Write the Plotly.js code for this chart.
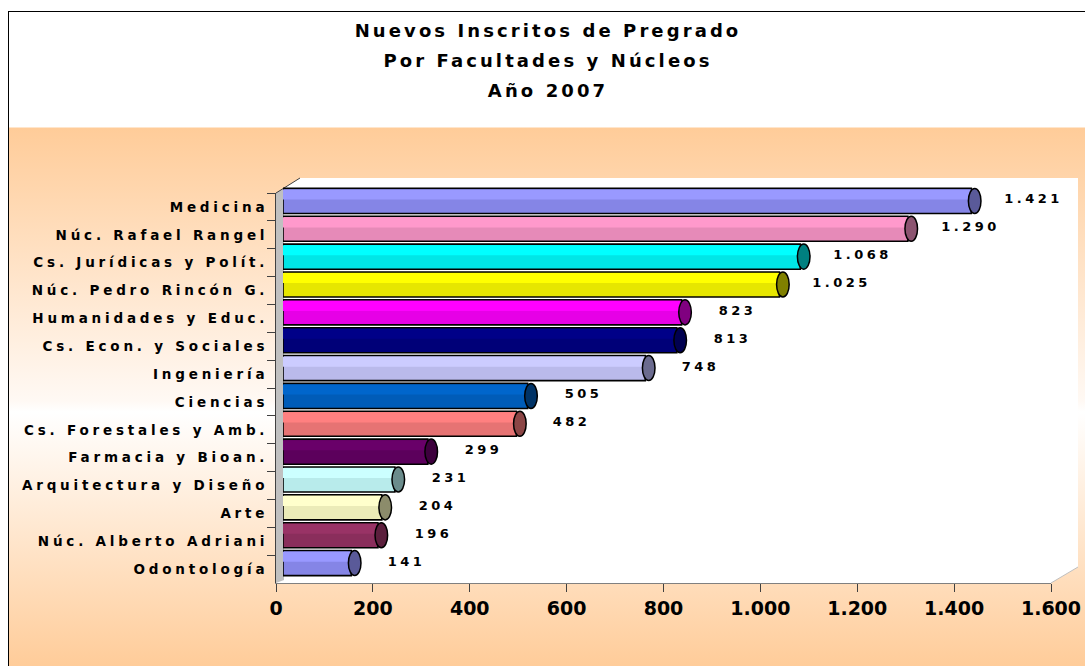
<!DOCTYPE html>
<html>
<head>
<meta charset="utf-8">
<script src="https://cdn.plot.ly/plotly-3.0.1.min.js"></script>
<style>
  html, body { margin: 0; padding: 0; background: #ffffff; }
  #wrap { position: relative; width: 1085px; height: 666px; overflow: hidden; }
  #frame {
    position: absolute; left: 8px; top: 11px; width: 1100px; height: 700px;
    border: 1px solid #000;
    background: linear-gradient(to bottom,
      #ffffff 0px, #ffffff 115px,
      #ffcc99 116px, #fff9f4 389px, #ffffff 400px, #ffcc99 655px, #ffcc99 700px);
  }
  #chart { position: absolute; left: 0; top: 0; width: 1085px; height: 666px; }
  #chart .ytick text { letter-spacing: 3.8px; }
  #chart .annotation-text { letter-spacing: 3.5px; }
  #chart .gtitle { letter-spacing: 3.1px; }
</style>
</head>
<body>
<div id="wrap">
  <div id="frame"></div>
  <div id="chart"></div>
</div>
<script>
// ---- data ----
const CATEGORIES = [
  'Medicina', 'Núc. Rafael Rangel', 'Cs. Jurídicas y Polít.', 'Núc. Pedro Rincón G.',
  'Humanidades y Educ.', 'Cs. Econ. y Sociales', 'Ingeniería', 'Ciencias',
  'Cs. Forestales y Amb.', 'Farmacia y Bioan.', 'Arquitectura y Diseño', 'Arte',
  'Núc. Alberto Adriani', 'Odontología'
];
const INSCRITOS = [1421, 1290, 1068, 1025, 823, 813, 748, 505, 482, 299, 231, 204, 196, 141];
const X_TICKS = [0, 200, 400, 600, 800, 1000, 1200, 1400, 1600];
const TITLE_LINES = ['Nuevos Inscritos de Pregrado', 'Por Facultades y Núcleos', 'Año 2007'];

// ---- styles ----
const BODY_COLORS = ['#8585E6', '#E68AB8', '#00E6E6', '#E6E600', '#E600E6', '#000078', '#BABAEB',
                     '#005CB8', '#E67373', '#5C005C', '#B8EBEB', '#EBEBB8', '#8A2E5C', '#8585E6'];
const HI_COLORS   = ['#9999FF', '#FF99CC', '#00FFFF', '#FFFF00', '#FF00FF', '#000088', '#CCCCFF',
                     '#0066CC', '#FF8080', '#690069', '#CCFFFF', '#FFFFCC', '#993366', '#9999FF'];
const CAP_COLORS  = ['#5A5A99', '#8C5470', '#008080', '#808000', '#800080', '#000050', '#6B6B8F',
                     '#003366', '#8C4646', '#3D003D', '#6B8C8C', '#8C8C6B', '#5C1F3D', '#5A5A99'];

const W = 1085, H = 666;
const L = 276, R = 27, T = 187, B = 83;
const PW = W - L - R, PH = H - T - B;
const px = p => (p - L) / PW;
const py = p => (H - B - p) / PH;
const FONT = 'DejaVu Sans, Verdana, sans-serif';

const fmt = v => String(v).replace(/\B(?=(\d{3})+(?!\d))/g, '.');

const idx = CATEGORIES.map((_, i) => i);

const traces = [
  // invisible trace to populate the labelled category axis
  { type: 'scatter', x: INSCRITOS, y: CATEGORIES, xaxis: 'x', yaxis: 'y',
    mode: 'markers', marker: { opacity: 0 }, hoverinfo: 'skip', showlegend: false },
  // main bars
  { type: 'bar', orientation: 'h', x: INSCRITOS, y: CATEGORIES, xaxis: 'x2', yaxis: 'y2',
    marker: { color: BODY_COLORS, line: { color: '#000000', width: 1.6 } },
    hoverinfo: 'skip', showlegend: false },
  // highlight on upper half of the cylinders
  { type: 'bar', orientation: 'h', x: INSCRITOS, y: CATEGORIES, xaxis: 'x2', yaxis: 'y2',
    width: 0.36, offset: -0.41,
    marker: { color: HI_COLORS, line: { width: 0 } },
    hoverinfo: 'skip', showlegend: false }
];

const shapes = [
  // back wall & floor
  { type: 'path', xref: 'paper', yref: 'paper', layer: 'below',
    path: `M${px(276)},${py(193)} L${px(300)},${py(178)} L${px(1078)},${py(178)} L${px(1078)},${py(567)} L${px(1051)},${py(583)} L${px(276)},${py(583)} Z`,
    fillcolor: '#ffffff', line: { width: 0 } },
  // side wall
  { type: 'path', xref: 'paper', yref: 'paper', layer: 'below',
    path: `M${px(276)},${py(193)} L${px(284)},${py(188)} L${px(284)},${py(580)} L${px(276)},${py(583)} Z`,
    fillcolor: '#c0c0c0', line: { width: 0 } },
  { type: 'line', xref: 'paper', yref: 'paper', layer: 'below',
    x0: px(276), y0: py(193), x1: px(300), y1: py(178), line: { color: '#404040', width: 1 } },
  { type: 'line', xref: 'paper', yref: 'paper', layer: 'below',
    x0: px(1051), y0: py(583), x1: px(1078), y1: py(567), line: { color: '#c0c0c0', width: 1 } }
];

// cylinder end caps, placed from the data through the bar axes
idx.forEach(i => {
  shapes.push({
    type: 'circle', xref: 'x2', yref: 'y2', layer: 'above',
    x0: INSCRITOS[i] - 6, x1: INSCRITOS[i] + 20, y0: i - 0.45, y1: i + 0.45,
    fillcolor: CAP_COLORS[i], line: { color: '#000000', width: 1.5 }
  });
});

const annotations = idx.map(i => ({
  xref: 'x2', yref: 'y2', x: INSCRITOS[i], y: CATEGORIES[i],
  text: fmt(INSCRITOS[i]), showarrow: false, xanchor: 'left', yanchor: 'middle',
  xshift: 40, yshift: 2,
  font: { family: FONT, size: 13, weight: 'bold', color: '#000000' }
}));

const titleText = TITLE_LINES.map(t => `<span style="font-size:18px">${t}</span>`).join('<br>');

const layout = {
  width: W, height: H,
  margin: { l: L, r: R, t: T, b: B, pad: 0 },
  paper_bgcolor: 'rgba(0,0,0,0)', plot_bgcolor: 'rgba(0,0,0,0)',
  separators: ',.',
  showlegend: false,
  barmode: 'overlay', bargap: 0.1,
  title: {
    text: titleText, font: { family: FONT, size: 23, weight: 'bold', color: '#000000' },
    x: 548 / W, xanchor: 'center', xref: 'container',
    y: 1 - 37 / H, yanchor: 'middle', yref: 'container'
  },
  xaxis: {
    domain: [0, 775 / PW], range: [0, 1600], tickvals: X_TICKS, tickformat: ',d',
    showline: true, linecolor: '#808080', linewidth: 1,
    ticks: 'outside', ticklen: 8, tickcolor: '#404040', tickwidth: 1,
    showgrid: false, zeroline: false, anchor: 'y',
    tickfont: { family: FONT, size: 19, weight: 'bold', color: '#000000' }
  },
  yaxis: {
    domain: [0, 390 / PH], type: 'category', categoryorder: 'array', categoryarray: CATEGORIES,
    range: [CATEGORIES.length - 0.5, -0.5],
    showline: true, linecolor: '#404040', linewidth: 1,
    ticks: 'outside', ticklen: 8, tickcolor: '#404040', tickson: 'boundaries',
    showgrid: false, zeroline: false, anchor: 'x', ticklabelstandoff: 4,
    tickfont: { family: FONT, size: 13.5, weight: 'bold', color: '#000000' }
  },
  xaxis2: {
    domain: [7 / PW, 1], range: [0, 1600], anchor: 'y2', visible: false,
    showgrid: false, zeroline: false
  },
  yaxis2: {
    domain: [6 / PH, 1], type: 'category', categoryorder: 'array', categoryarray: CATEGORIES,
    range: [CATEGORIES.length - 0.5, -0.5], anchor: 'x2', visible: false,
    showgrid: false, zeroline: false
  },
  shapes: shapes,
  annotations: annotations
};

Plotly.newPlot('chart', traces, layout, { staticPlot: true, displayModeBar: false });
</script>
</body>
</html>
